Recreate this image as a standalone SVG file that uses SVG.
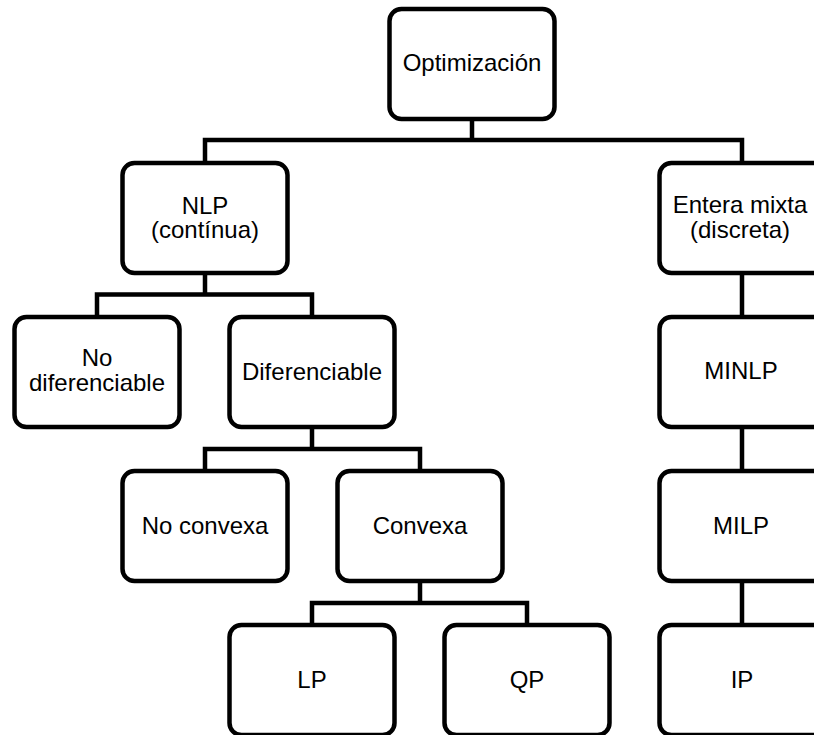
<svg xmlns="http://www.w3.org/2000/svg" width="814" height="735" viewBox="0 0 814 735">
<style>
.box{fill:#fff;stroke:#000;stroke-width:4.5}
.con{fill:none;stroke:#000;stroke-width:4.5;stroke-linejoin:miter}
text{font-family:"Liberation Sans",Arial,sans-serif;font-size:24px;fill:#000;text-anchor:middle}
</style>
<rect width="814" height="735" fill="#fff"/>
<g id="connectors">
<path class="con" d="M472 118V140M205 163V140H742V163"/>
<path class="con" d="M205 273V294.5M97 317V294.5H312V317"/>
<path class="con" d="M312 427V449M205 471V449H420V471"/>
<path class="con" d="M420 581V603M312 625V603H527V625"/>
<path class="con" d="M742 273V317M742 427V471M742 581V625"/>
</g>
<g id="optimizacion"><rect class="box" x="389.5" y="9" width="165" height="110" rx="12"/><text x="472" y="71">Optimización</text></g>
<g id="nlp"><rect class="box" x="122.5" y="163" width="165" height="110" rx="12"/><text x="205" y="213.5">NLP</text><text x="205" y="238">(contínua)</text></g>
<g id="entera"><rect class="box" x="659.5" y="163" width="165" height="110" rx="12"/><text x="740" y="213">Entera mixta</text><text x="740" y="237.5">(discreta)</text></g>
<g id="nodiferenciable"><rect class="box" x="14.5" y="317" width="165" height="110" rx="12"/><text x="97" y="366">No</text><text x="97" y="391">diferenciable</text></g>
<g id="diferenciable"><rect class="box" x="229.5" y="317" width="165" height="110" rx="12"/><text x="312" y="379.5">Diferenciable</text></g>
<g id="minlp"><rect class="box" x="659.5" y="317" width="165" height="110" rx="12"/><text x="741" y="379">MINLP</text></g>
<g id="noconvexa"><rect class="box" x="122.5" y="471" width="165" height="110" rx="12"/><text x="205" y="533.5">No convexa</text></g>
<g id="convexa"><rect class="box" x="337.5" y="471" width="165" height="110" rx="12"/><text x="420" y="533.5">Convexa</text></g>
<g id="milp"><rect class="box" x="659.5" y="471" width="165" height="110" rx="12"/><text x="741" y="533.5">MILP</text></g>
<g id="lp"><rect class="box" x="229.5" y="625" width="165" height="110" rx="12"/><text x="312" y="688">LP</text></g>
<g id="qp"><rect class="box" x="444.5" y="625" width="165" height="110" rx="12"/><text x="527" y="688">QP</text></g>
<g id="ip"><rect class="box" x="659.5" y="625" width="165" height="110" rx="12"/><text x="742" y="688">IP</text></g>
</svg>
